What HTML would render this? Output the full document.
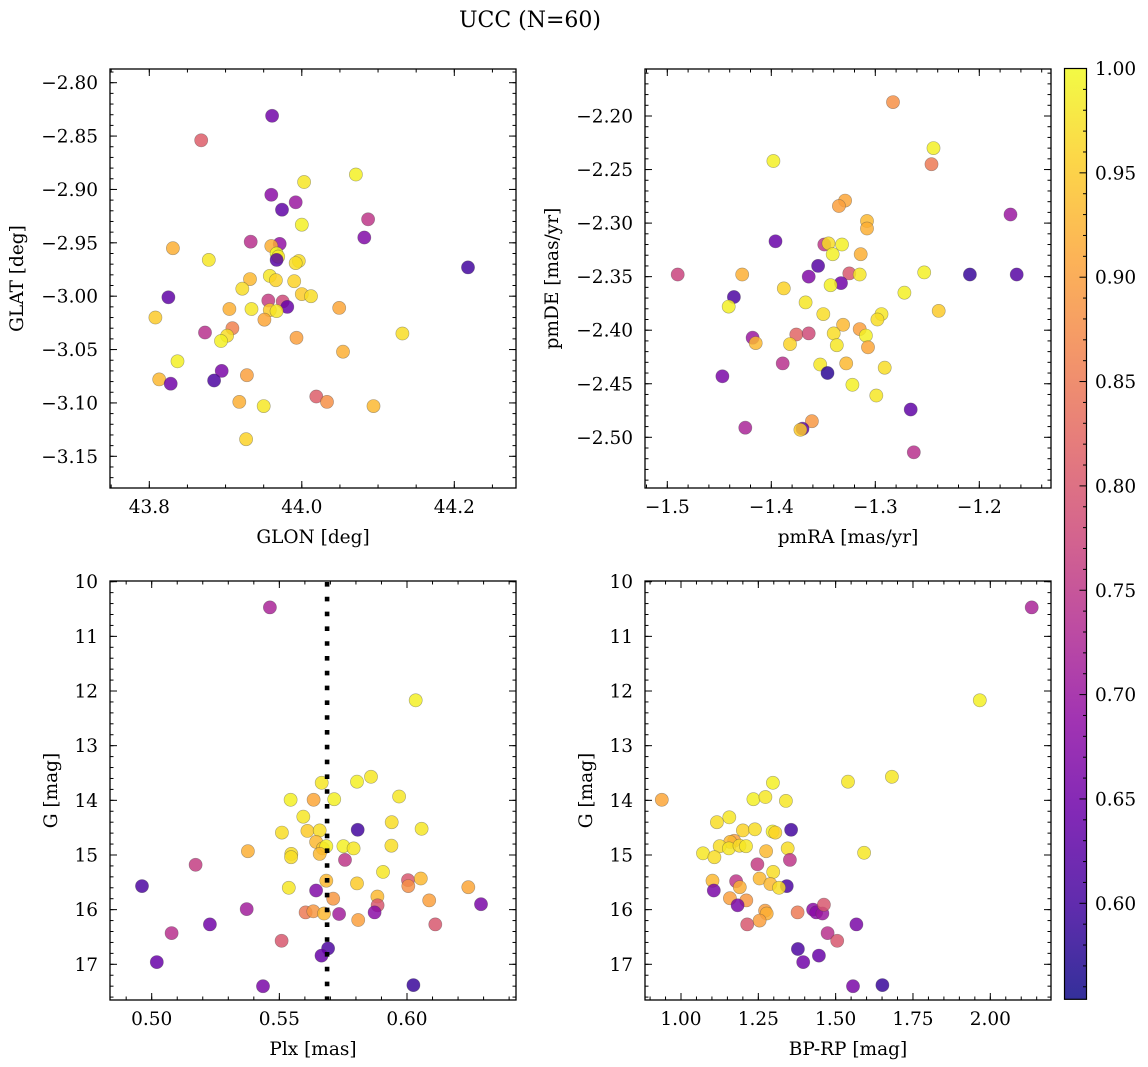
<!DOCTYPE html>
<html><head><meta charset="utf-8"><style>
html,body{margin:0;padding:0;background:#fff;}
svg{display:block;font-family:"DejaVu Serif","Liberation Serif",serif;}
</style></head><body>
<svg id="fig" width="1148" height="1067" viewBox="0 0 1148 1067" xmlns="http://www.w3.org/2000/svg">
<defs><linearGradient id="plasma" x1="0" y1="1" x2="0" y2="0"></linearGradient></defs>
<text x="530" y="27" font-size="22" text-anchor="middle">UCC (N=60)</text>
</svg>
<script>
// ---- data ----
const p1Glon=[43.961,43.868,44.071,44.003,43.960,43.992,43.974,44.087,44.000,44.082,43.933,43.971,43.831,43.960,43.967,43.969,43.967,43.878,43.996,43.992,44.218,43.958,43.966,43.932,43.990,43.922,44.000,44.012,43.825,43.956,43.975,43.981,44.049,43.905,43.934,43.958,43.967,43.808,43.951,43.909,43.873,44.132,43.902,43.894,43.993,44.054,43.837,43.895,43.813,43.885,43.928,43.828,44.019,44.033,43.918,43.950,44.094,43.927];
const p1Glat=[-2.831,-2.854,-2.886,-2.893,-2.905,-2.912,-2.919,-2.928,-2.933,-2.945,-2.949,-2.951,-2.955,-2.953,-2.960,-2.963,-2.966,-2.966,-2.967,-2.969,-2.973,-2.981,-2.985,-2.984,-2.986,-2.993,-2.998,-3.000,-3.001,-3.004,-3.005,-3.010,-3.011,-3.012,-3.012,-3.013,-3.014,-3.020,-3.022,-3.030,-3.034,-3.035,-3.037,-3.042,-3.039,-3.052,-3.061,-3.070,-3.078,-3.079,-3.074,-3.082,-3.094,-3.099,-3.099,-3.103,-3.103,-3.134];
const p1Prob=[0.65,0.81,0.99,0.98,0.68,0.70,0.63,0.75,0.99,0.67,0.74,0.69,0.92,0.92,1.00,0.98,0.62,0.98,0.97,0.97,0.60,0.98,0.96,0.93,0.96,0.97,0.95,0.97,0.63,0.76,0.78,0.64,0.91,0.92,0.98,0.95,0.98,0.95,0.91,0.86,0.74,0.97,0.97,0.99,0.90,0.92,0.99,0.66,0.93,0.61,0.90,0.65,0.81,0.88,0.92,0.98,0.93,0.96];

const p2PmRA=[-1.283,-1.244,-1.246,-1.398,-1.329,-1.335,-1.170,-1.308,-1.308,-1.396,-1.349,-1.345,-1.332,-1.341,-1.314,-1.355,-1.490,-1.428,-1.364,-1.325,-1.315,-1.253,-1.209,-1.164,-1.333,-1.343,-1.388,-1.272,-1.436,-1.441,-1.367,-1.239,-1.350,-1.294,-1.298,-1.331,-1.315,-1.376,-1.364,-1.340,-1.309,-1.418,-1.415,-1.382,-1.337,-1.307,-1.389,-1.353,-1.328,-1.291,-1.346,-1.447,-1.322,-1.299,-1.266,-1.361,-1.370,-1.372,-1.425,-1.263];
const p2PmDE=[-2.187,-2.230,-2.245,-2.242,-2.279,-2.284,-2.292,-2.298,-2.305,-2.317,-2.320,-2.319,-2.320,-2.329,-2.329,-2.340,-2.348,-2.348,-2.350,-2.347,-2.348,-2.346,-2.348,-2.348,-2.356,-2.358,-2.361,-2.365,-2.369,-2.378,-2.374,-2.382,-2.385,-2.385,-2.390,-2.395,-2.399,-2.404,-2.403,-2.403,-2.405,-2.407,-2.412,-2.413,-2.414,-2.416,-2.431,-2.432,-2.431,-2.435,-2.440,-2.443,-2.451,-2.461,-2.474,-2.485,-2.492,-2.493,-2.491,-2.514];
const p2Prob=[0.88,0.99,0.85,0.99,0.91,0.90,0.70,0.93,0.92,0.64,0.75,0.97,0.99,0.99,0.92,0.62,0.77,0.92,0.67,0.80,0.98,0.99,0.59,0.62,0.65,0.99,0.96,0.99,0.61,0.99,0.98,0.95,0.97,0.98,0.97,0.93,0.90,0.82,0.78,0.97,0.99,0.70,0.93,0.96,0.98,0.91,0.74,0.98,0.93,0.97,0.58,0.66,0.99,0.98,0.63,0.89,0.63,0.95,0.72,0.74];

const p3Plx=[0.5463,0.6034,0.5666,0.5804,0.5859,0.5544,0.5634,0.5715,0.5969,0.5594,0.5807,0.5610,0.5658,0.5940,0.6057,0.5510,0.5644,0.5670,0.5684,0.5751,0.5791,0.5939,0.5377,0.5547,0.5546,0.5658,0.5757,0.5172,0.5906,0.4962,0.5537,0.5644,0.5684,0.5804,0.6004,0.6005,0.6054,0.6240,0.5711,0.5884,0.5885,0.6087,0.6290,0.5372,0.5603,0.5633,0.5675,0.5734,0.5873,0.5809,0.5228,0.6111,0.5078,0.5509,0.5691,0.5665,0.5020,0.5436,0.6025];
const p3G=[10.47,12.17,13.68,13.66,13.57,13.99,13.99,13.98,13.93,14.30,14.54,14.56,14.55,14.40,14.52,14.59,14.76,14.88,14.84,14.84,14.88,14.83,14.93,14.98,15.04,14.98,15.09,15.18,15.31,15.57,15.60,15.65,15.47,15.52,15.46,15.57,15.43,15.59,15.80,15.76,15.92,15.83,15.90,15.99,16.05,16.03,16.07,16.08,16.05,16.19,16.27,16.27,16.43,16.57,16.71,16.84,16.96,17.40,17.38];
const p3Prob=[0.72,0.99,0.98,0.99,0.98,0.99,0.91,0.99,0.98,0.98,0.60,0.95,0.97,0.97,0.98,0.97,0.93,0.95,0.99,0.99,0.98,0.97,0.92,0.97,0.97,0.93,0.75,0.76,0.98,0.61,0.98,0.67,0.93,0.95,0.80,0.88,0.93,0.91,0.89,0.93,0.80,0.90,0.66,0.71,0.85,0.89,0.93,0.71,0.68,0.90,0.65,0.80,0.74,0.80,0.61,0.64,0.64,0.66,0.59];
const plxMedian=0.5687;

const p4BpRp=[2.134,1.966,1.540,1.682,1.297,0.938,1.234,1.273,1.339,1.156,1.116,1.200,1.239,1.296,1.305,1.356,1.172,1.159,1.125,1.155,1.189,1.210,1.275,1.345,1.071,1.108,1.352,1.592,1.247,1.298,1.102,1.178,1.254,1.289,1.342,1.317,1.190,1.106,1.158,1.211,1.183,1.272,1.277,1.254,1.214,1.377,1.427,1.437,1.457,1.462,1.567,1.474,1.505,1.378,1.446,1.395,1.556,1.651];
const p4G=[10.47,12.17,13.66,13.57,13.68,13.99,13.98,13.94,14.01,14.31,14.40,14.55,14.53,14.57,14.59,14.54,14.74,14.76,14.84,14.88,14.83,14.84,14.93,14.88,14.97,15.04,15.09,14.96,15.17,15.31,15.47,15.48,15.43,15.53,15.57,15.60,15.59,15.65,15.79,15.83,15.92,16.02,16.07,16.20,16.27,16.05,16.00,16.05,16.07,15.91,16.27,16.43,16.57,16.72,16.84,16.96,17.40,17.38];
const p4Prob=[0.72,0.99,0.98,0.98,0.99,0.91,0.99,0.98,0.98,0.98,0.97,0.96,0.97,0.99,0.96,0.60,0.90,0.93,0.97,0.98,0.97,0.98,0.93,0.97,0.98,0.97,0.75,0.98,0.76,0.97,0.93,0.75,0.93,0.93,0.61,0.97,0.92,0.66,0.90,0.89,0.66,0.90,0.92,0.90,0.80,0.85,0.68,0.68,0.70,0.80,0.66,0.74,0.80,0.61,0.64,0.65,0.66,0.59];

const cbarTicks=[0.60,0.65,0.70,0.75,0.80,0.85,0.90,0.95,1.00];
const cMin=0.554, cMax=1.0;

// ---- helpers ----
const NS="http://www.w3.org/2000/svg";
const svg=document.getElementById('fig');
function mk(tag,attrs,parent){const e=document.createElementNS(NS,tag);for(const k in attrs)e.setAttribute(k,attrs[k]);(parent||svg).appendChild(e);return e;}
const stops=[[0,"#0d0887"],[0.1,"#41049d"],[0.2,"#6a00a8"],[0.3,"#8f0da4"],[0.4,"#b12a90"],[0.5,"#cc4778"],[0.6,"#e16462"],[0.7,"#f2844b"],[0.8,"#fca636"],[0.9,"#fcce25"],[1,"#f0f921"]];
function hex(h){return [1,3,5].map(i=>parseInt(h.substr(i,2),16));}
function plasma(t){t=Math.max(0,Math.min(1,t));for(let i=1;i<stops.length;i++){if(t<=stops[i][0]){const a=stops[i-1],b=stops[i];const f=(t-a[0])/(b[0]-a[0]);const ca=hex(a[1]),cb=hex(b[1]);return 'rgb('+ca.map((v,j)=>Math.round(v+(cb[j]-v)*f)).join(',')+')';}}return stops[10][1];}
function cmap(v){return plasma((v-cMin)/(cMax-cMin));}
function lin(d0,d1,r0,r1){const f=v=>r0+(v-d0)*(r1-r0)/(d1-d0);f.inv=p=>d0+(p-r0)*(d1-d0)/(r1-r0);return f;}
function fmt(v,dec){const s=Math.abs(v).toFixed(dec);return (v<-1e-9?'\u2212':'')+s;}
const FS=18.5;

function panel(cfg){
  const g=mk('g',{});
  
  
  const {x0,x1,y0,y1,sx,sy}=cfg;
  const pg=mk('g',{},g);
  
  
  for(let i=0;i<cfg.xs.length;i++){
    const c=mk('circle',{cx:sx(cfg.xs[i]).toFixed(1),cy:sy(cfg.ys[i]).toFixed(1),r:6.6,fill:cmap(cfg.cs[i]),'fill-opacity':0.84,stroke:'#444','stroke-opacity':0.45,'stroke-width':0.6},pg);
    
    
  }
  if(cfg.vline!==undefined){
    const l=mk('line',{x1:sx(cfg.vline),x2:sx(cfg.vline),y1:y0+1,y2:y1,stroke:'#000','stroke-width':4.6,'stroke-dasharray':'4.6 10.2'},g);
    
    
  }
  const tg=mk('g',{stroke:'#000','stroke-width':1},g);
  function ticksX(step,len,labels,dec){
    const a=Math.ceil(sx.inv(x0)/step-1e-6),b=Math.floor(sx.inv(x1)/step+1e-6);
    for(let k=a;k<=b;k++){const v=k*step,px=sx(v);
      mk('line',{x1:px,x2:px,y1:y1,y2:y1-len},tg);mk('line',{x1:px,x2:px,y1:y0,y2:y0+len},tg);
      if(labels){const t=mk('text',{x:px,y:y1+25,'font-size':FS,'text-anchor':'middle',stroke:'none'},g);t.textContent=fmt(v,dec);
        }}
  }
  function ticksY(step,len,labels,dec){
    const lo=Math.min(sy.inv(y0),sy.inv(y1)),hi=Math.max(sy.inv(y0),sy.inv(y1));
    const a=Math.ceil(lo/step-1e-6),b=Math.floor(hi/step+1e-6);
    for(let k=a;k<=b;k++){const v=k*step,py=sy(v);
      mk('line',{x1:x0,x2:x0+len,y1:py,y2:py},tg);mk('line',{x1:x1,x2:x1-len,y1:py,y2:py},tg);
      if(labels){const t=mk('text',{x:x0-12,y:py+6.5,'font-size':FS,'text-anchor':'end',stroke:'none'},g);t.textContent=fmt(v,dec);
        }}
  }
  ticksX(cfg.xminor,3.5,false);ticksX(cfg.xmajor,7,true,cfg.xdec);
  ticksY(cfg.yminor,3.5,false);ticksY(cfg.ymajor,7,true,cfg.ydec);
  const fr=mk('rect',{x:x0,y:y0,width:x1-x0,height:y1-y0,fill:'none',stroke:'#000','stroke-width':1.3},g);
  
  const xl=mk('text',{x:(x0+x1)/2,y:y1+55,'font-size':FS,'text-anchor':'middle'},g);xl.textContent=cfg.xlabel;
  
  const yx=x0-cfg.ylabOff,yy=(y0+y1)/2;
  const yl=mk('text',{x:yx,y:yy,'font-size':FS,'text-anchor':'middle',transform:`rotate(-90 ${yx} ${yy})`},g);yl.textContent=cfg.ylabel;
  
}

panel({name:'glon-glat-panel',x0:110,x1:516,y0:69,y1:488,sx:lin(43.8,44.2,149.3,454.3),sy:lin(-2.80,-3.15,82.7,456.3),
  xs:p1Glon,ys:p1Glat,cs:p1Prob,xmajor:0.2,xminor:0.05,ymajor:0.05,yminor:0.01,xdec:1,ydec:2,xlabel:'GLON [deg]',ylabel:'GLAT [deg]',ylabOff:87});
panel({name:'pm-panel',x0:645,x1:1051,y0:69,y1:488,sx:lin(-1.5,-1.2,667.3,979.3),sy:lin(-2.20,-2.50,116,437.3),
  xs:p2PmRA,ys:p2PmDE,cs:p2Prob,xmajor:0.1,xminor:0.02,ymajor:0.05,yminor:0.01,xdec:1,ydec:2,xlabel:'pmRA [mas/yr]',ylabel:'pmDE [mas/yr]',ylabOff:87});
panel({name:'plx-g-panel',x0:110,x1:516,y0:581,y1:1000,sx:lin(0.50,0.60,151.7,407),sy:lin(10,17,581.7,964.3),
  xs:p3Plx,ys:p3G,cs:p3Prob,vline:plxMedian,xmajor:0.05,xminor:0.01,ymajor:1,yminor:0.2,xdec:2,ydec:0,xlabel:'Plx [mas]',ylabel:'G [mag]',ylabOff:53});
panel({name:'cmd-panel',x0:645,x1:1051,y0:581,y1:1000,sx:lin(1.0,2.0,681,990.3),sy:lin(10,17,581.7,964.3),
  xs:p4BpRp,ys:p4G,cs:p4Prob,xmajor:0.25,xminor:0.05,ymajor:1,yminor:0.2,xdec:2,ydec:0,xlabel:'BP-RP [mag]',ylabel:'G [mag]',ylabOff:53});

// colorbar
const grad=document.getElementById('plasma');
stops.forEach(s=>mk('stop',{offset:s[0],'stop-color':s[1]},grad));
const cy=lin(1.0,0.60,68.5,903.3);
const cb=mk('g',{});


mk('rect',{x:1064.5,y:cy(cMax),width:22,height:cy(cMin)-cy(cMax),fill:'url(#plasma)','fill-opacity':0.84},cb);
for(let k=56;k<=100;k++){const py=cy(k/100);const maj=(k%5===0);
  mk('line',{x1:1086.5,x2:1086.5-(maj?7:3.5),y1:py,y2:py,stroke:'#000','stroke-width':1},cb);}
cbarTicks.forEach(v=>{const t=mk('text',{x:1095,y:cy(v)+6.5,'font-size':FS},cb);t.textContent=v.toFixed(2);
  });
mk('rect',{x:1064.5,y:cy(cMax),width:22,height:cy(cMin)-cy(cMax),fill:'none',stroke:'#000','stroke-width':1.2},cb);
</script>
</body></html>
